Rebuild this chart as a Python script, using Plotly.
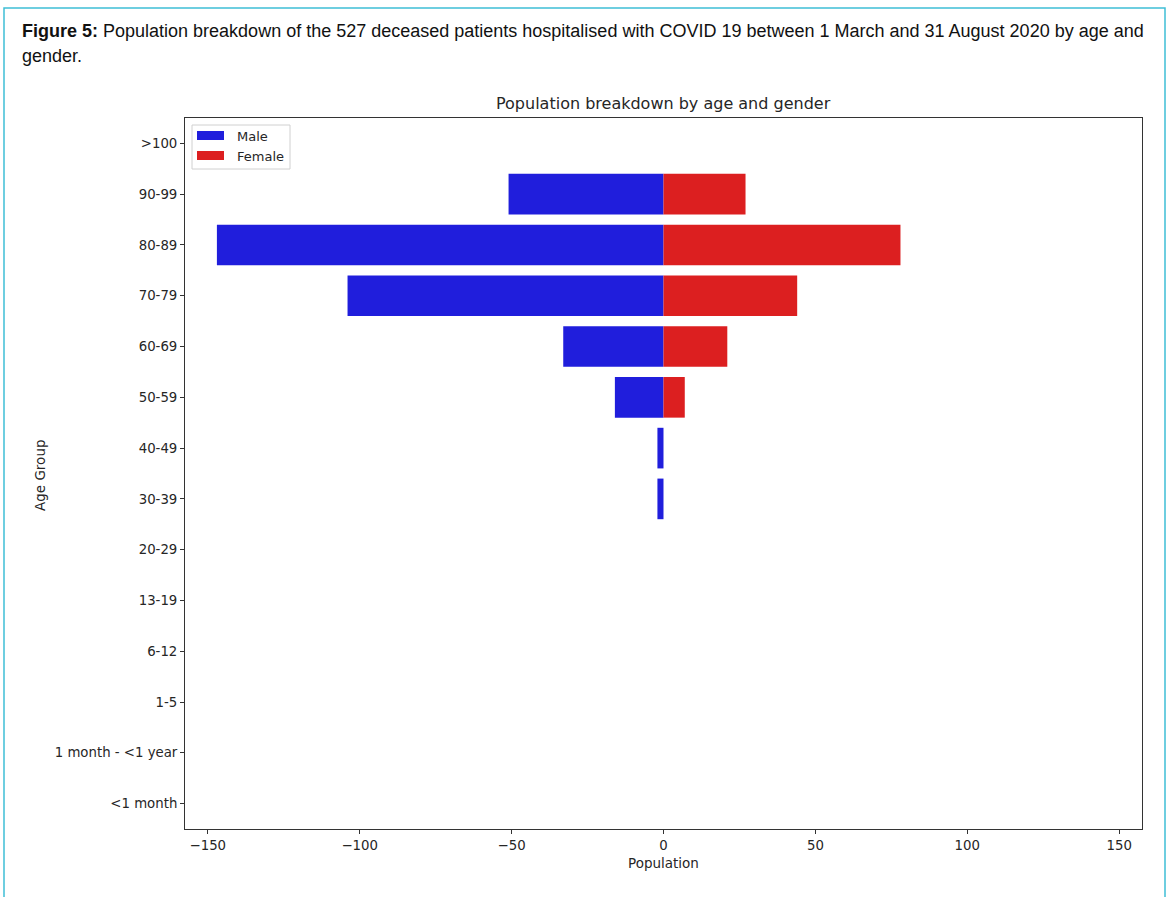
import plotly.graph_objects as go

# Age groups listed from the bottom of the chart to the top
age_groups = ["<1 month", "1 month - <1 year", "1-5", "6-12", "13-19", "20-29",
              "30-39", "40-49", "50-59", "60-69", "70-79", "80-89", "90-99", ">100"]
male = [0, 0, 0, 0, 0, 0, 2, 2, 16, 33, 104, 147, 51, 0]
female = [0, 0, 0, 0, 0, 0, 0, 0, 7, 21, 44, 78, 27, 0]

x_ticks = [-150, -100, -50, 0, 50, 100, 150]
x_tick_text = ["\u2212150", "\u2212100", "\u221250", "0", "50", "100", "150"]

BLUE = "#201edc"
RED = "#dc1f20"
W, H = 1170, 897
L, R, T, B = 185, 1142, 118, 829


def px(x):
    return (x - L) / (R - L)


def py(y):
    return (B - y) / (B - T)


fig = go.Figure()
fig.add_trace(go.Bar(y=age_groups, x=[-v for v in male], orientation="h",
                     name="Male", marker=dict(color=BLUE, line=dict(width=0)),
                     width=0.8, hoverinfo="skip"))
fig.add_trace(go.Bar(y=age_groups, x=female, orientation="h",
                     name="Female", marker=dict(color=RED, line=dict(width=0)),
                     width=0.8, hoverinfo="skip"))

tick_font = dict(family="DejaVu Sans", size=13.3, color="#262626")
label_font = dict(family="DejaVu Sans", size=13.5, color="#262626")
fig.update_layout(
    width=W, height=H,
    margin=dict(l=L, r=W - R, t=T, b=H - B),
    barmode="relative",
    showlegend=False,
    plot_bgcolor="white",
    paper_bgcolor="white",
    xaxis=dict(range=[-157.5, 157.5], tickvals=x_ticks, ticktext=x_tick_text,
               showgrid=False, zeroline=False, ticks="outside", ticklen=4,
               tickcolor="#333", showline=True, linecolor="#333", linewidth=1,
               mirror=True, tickfont=tick_font),
    yaxis=dict(categoryorder="array", categoryarray=age_groups,
               range=[-0.5, 13.5], showgrid=False, zeroline=False,
               ticks="outside", ticklen=4, tickcolor="#333", showline=True,
               linecolor="#333", linewidth=1, mirror=True, tickfont=tick_font),
)

annotations = [
    dict(x=px(20), y=py(31), xanchor="left", yanchor="middle",
         text="<b>Figure 5:</b> Population breakdown of the 527 deceased patients "
              "hospitalised with COVID 19 between 1 March and 31 August 2020 by age and",
         font=dict(family="Liberation Sans", size=18, color="#111")),
    dict(x=px(20), y=py(56), xanchor="left", yanchor="middle", text="gender.",
         font=dict(family="Liberation Sans", size=18, color="#111")),
    dict(x=px(663), y=py(103), xanchor="center", yanchor="middle",
         text="Population breakdown by age and gender",
         font=dict(family="DejaVu Sans", size=16, color="#262626")),
    dict(x=px(663), y=py(863), xanchor="center", yanchor="middle",
         text="Population", font=label_font),
    dict(x=px(40), y=py(475), xanchor="center", yanchor="middle",
         text="Age Group", textangle=-90, font=label_font),
    dict(x=px(235), y=py(136), xanchor="left", yanchor="middle", text="Male",
         font=dict(family="DejaVu Sans", size=13, color="#262626")),
    dict(x=px(235), y=py(156), xanchor="left", yanchor="middle", text="Female",
         font=dict(family="DejaVu Sans", size=13, color="#262626")),
]
for a in annotations:
    a.update(xref="paper", yref="paper", showarrow=False)
fig.update_layout(annotations=annotations)

shapes = [
    # outer figure frame
    dict(type="rect", x0=px(4), x1=px(1165), y0=py(8), y1=py(920),
         line=dict(color="#3fbfd6", width=1.5), fillcolor="rgba(0,0,0,0)",
         layer="below"),
    # legend box and colour patches
    dict(type="rect", x0=px(192), x1=px(290), y0=py(125), y1=py(169),
         line=dict(color="#d0d0d0", width=1), fillcolor="rgba(255,255,255,0.8)"),
    dict(type="rect", x0=px(197), x1=px(224), y0=py(131), y1=py(140),
         line=dict(width=0), fillcolor=BLUE),
    dict(type="rect", x0=px(197), x1=px(224), y0=py(151), y1=py(160),
         line=dict(width=0), fillcolor=RED),
]
for s in shapes:
    s.update(xref="paper", yref="paper")
fig.update_layout(shapes=shapes)

fig.write_html("out.html")
